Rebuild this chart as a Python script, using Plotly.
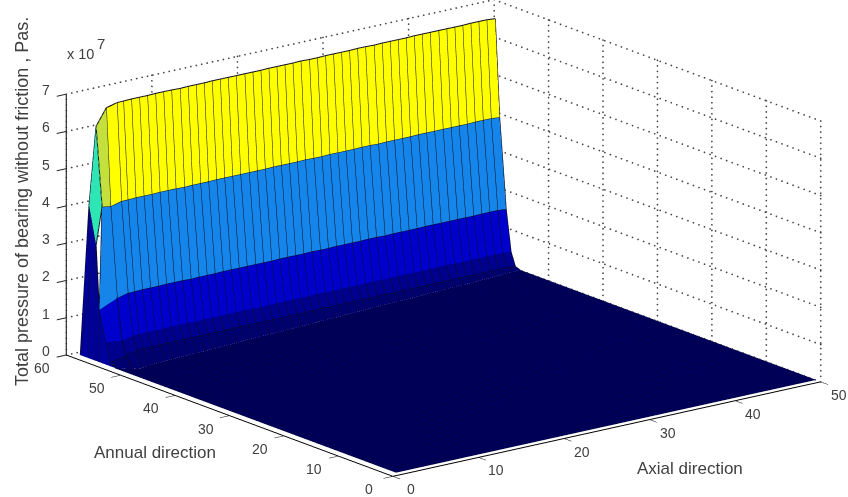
import numpy as np
import plotly.graph_objects as go

axial = list(range(1, 51))
x_ticks = [0, 10, 20, 30, 40, 50]
y_ticks = [0, 10, 20, 30, 40, 50, 60]
z_ticks = [0, 1, 2, 3, 4, 5, 6, 7]

# crest of the pressure wall, columns x=2..50
crest_y = [55.8,55.4,55.8,55.9,56.0,56.1,56.2,56.3,56.4,56.4,
           56.5,56.6,56.7,56.8,56.9,57.0,57.1,57.1,57.2,57.3,
           57.4,57.5,57.6,57.7,57.8,57.8,57.9,58.0,58.1,58.2,
           58.3,58.4,58.5,58.5,58.6,58.7,58.8,58.9,59.0,59.1,
           59.2,59.2,59.3,59.4,59.5,59.6,59.7,59.8,59.8]
crest_z = [6.76,6.87,6.84,6.84,6.83,6.82,6.82,6.81,6.80,6.79,
           6.79,6.78,6.77,6.77,6.76,6.75,6.74,6.74,6.73,6.72,
           6.72,6.71,6.70,6.69,6.69,6.68,6.67,6.67,6.66,6.65,
           6.64,6.64,6.63,6.62,6.62,6.61,6.60,6.59,6.59,6.58,
           6.57,6.57,6.56,6.55,6.54,6.54,6.53,6.52,6.50]
row_drop = [0, 2.6, 5.0, 6.1, 6.45]
row_offset = [0, -0.8, -2.0, -2.9, -3.7, -4.6]
band_colors = ["#FFFF00", "#1685EA", "#0000CC", "#00008E", "#000070"]
floor_color = "#00005A"

# first column, x=1
edge_y = [56.1, 55.0, 55.5, 54.3, 53.4, 52.5]
edge_z = [6.3, 4.2, 1.4, 0.6, 0.1, 0]
edge_colors = ["#C4E03C", "#1685EA", "#0000CC", "#00008E", "#000070"]

# facets on the x=1 flank
flank_y = [56.1, 55.0, 56.1, 57.4, 59.0, 55.5, 54.3, 52.5, 53.4]
flank_z = [6.3, 4.2, 3.1, 4.1, 0.0, 1.4, 0.6, 0.0, 0.1]
flank_tri = [(0, 1, 2, "#2EE6B4"), (0, 2, 3, "#2EE6B4"), (4, 3, 2, "#00009C"),
             (4, 2, 5, "#00009C"), (4, 5, 6, "#00009C"), (4, 6, 8, "#00009C"), (4, 8, 7, "#00009C")]
flank_rib_y = [57.4, 56.1, 55.5]
flank_rib_z = [4.1, 3.1, 1.4]

nfloor = 50
ncol = len(axial)
nwall = len(row_offset)
nrow = nwall + nfloor
X, Y, Z = np.zeros((ncol, nrow)), np.zeros((ncol, nrow)), np.zeros((ncol, nrow))
for c in range(ncol):
    X[c] = axial[c]
    if c == 0:
        wy, wz = np.array(edge_y), np.array(edge_z)
    else:
        wy = crest_y[c - 1] + np.array(row_offset)
        wz = np.array([crest_z[c - 1] - d for d in row_drop] + [0.0])
    Y[c, :nwall] = wy
    Z[c, :nwall] = wz
    Y[c, nwall:] = np.linspace(wy[-1], 1, nfloor + 1)[1:]

vx, vy, vz = X.ravel().tolist(), Y.ravel().tolist(), Z.ravel().tolist()
idx = lambda c, r: c * nrow + r
I, J, K, F = [], [], [], []
for c in range(ncol - 1):
    for r in range(nrow - 1):
        if r < nwall - 1:
            col = edge_colors[r] if c == 0 else band_colors[r]
        else:
            col = floor_color
        a, b, d, e = idx(c, r), idx(c + 1, r), idx(c + 1, r + 1), idx(c, r + 1)
        I += [a, a]; J += [b, d]; K += [d, e]; F += [col, col]
# flank facets
base = len(vx)
vx += [1] * len(flank_y); vy += flank_y; vz += flank_z
for a, b, d, col in flank_tri:
    I.append(base + a); J.append(base + b); K.append(base + d); F.append(col)

fig = go.Figure()
fig.add_trace(go.Mesh3d(x=vx, y=vy, z=vz, i=I, j=J, k=K, facecolor=F, flatshading=True,
                        lighting=dict(ambient=1, diffuse=0, specular=0, fresnel=0, roughness=1),
                        hoverinfo="skip", showscale=False))

def seg_trace(segs, color, width=2):
    xs, ys, zs = [], [], []
    for s in segs:
        xs += list(s[0]) + [None]; ys += list(s[1]) + [None]; zs += list(s[2]) + [None]
    return go.Scatter3d(x=xs, y=ys, z=zs, mode="lines", line=dict(color=color, width=width),
                        hoverinfo="skip", showlegend=False)

# wall mesh lines
wall = []
for c in range(ncol):
    wall.append((X[c, :nwall], Y[c, :nwall], Z[c, :nwall]))
for r in range(nwall - 1):
    wall.append((X[:, r], Y[:, r], Z[:, r]))
fig.add_trace(seg_trace(wall, "#0A0A20"))
flank = [([1, 1], [flank_y[a], flank_y[b]], [flank_z[a], flank_z[b]]) for a, b in [(3, 0), (4, 3), (2, 3), (2, 1), (2, 5), (2, 4)]]
flank += [([1, 1], [ry, ry], [0, rz]) for ry, rz in zip(flank_rib_y, flank_rib_z)]
fig.add_trace(seg_trace(flank, "#0A0A30"))

# floor mesh lines
floor = []
for c in range(ncol):
    floor.append((X[c, nwall - 1:], Y[c, nwall - 1:], Z[c, nwall - 1:]))
for r in range(nwall, nrow):
    floor.append((X[:, r], Y[:, r], Z[:, r]))
fig.add_trace(seg_trace(floor, "#00003C", width=1))

# dotted grid on back walls, drawn as rows of tiny dots
xmax, ymax, zmax = x_ticks[-1], y_ticks[-1], z_ticks[-1]
gx, gy, gz = [], [], []
def dots(x0, x1, y0, y1, z0, z1, n):
    gx.extend(np.linspace(x0, x1, n).tolist())
    gy.extend(np.linspace(y0, y1, n).tolist())
    gz.extend(np.linspace(z0, z1, n).tolist())
for z in z_ticks:
    dots(0, xmax, ymax, ymax, z, z, 80)
    dots(xmax, xmax, 0, ymax, z, z, 60)
for x in x_ticks:
    dots(x, x, ymax, ymax, 0, zmax, 48)
for y in y_ticks:
    dots(xmax, xmax, y, y, 0, zmax, 48)
fig.add_trace(go.Scatter3d(x=gx, y=gy, z=gz, mode="markers", marker=dict(size=1, color="#444444", line=dict(width=0)),
                           hoverinfo="skip", showlegend=False))

def axis(vals, rng):
    return dict(range=rng, autorange=False, tickmode="array", tickvals=vals, showticklabels=False,
                showgrid=False, zeroline=False, showbackground=False, showline=True, linecolor="#000000",
                linewidth=2, ticks="outside", ticklen=12, tickcolor="#222222", tickwidth=2,
                title=dict(text=""), showspikes=False)

tf = dict(family="Liberation Sans", size=14, color="#404040")
scene_notes = []
for v in x_ticks:
    scene_notes.append(dict(x=v, y=0, z=0, text=str(v), showarrow=False, xshift=18, yshift=-13, font=tf))
for v in y_ticks:
    scene_notes.append(dict(x=0, y=v, z=0, text=str(v), showarrow=False, xshift=-24, yshift=-13, font=tf))
for v in z_ticks:
    scene_notes.append(dict(x=0, y=ymax, z=v, text=str(v), showarrow=False, xshift=-20, yshift=4, font=tf))

center = np.array([-0.0694, 0.0386, -0.0406])
eye = np.array([-0.586, -0.760, 0.287]) * 3.0 + center
K_ = 2.174
fig.update_layout(
    width=848, height=497, margin=dict(l=0, r=0, t=0, b=0), paper_bgcolor="white", showlegend=False,
    scene=dict(
        domain=dict(x=[0, 1], y=[0, 1]),
        xaxis=axis(x_ticks, [0, xmax]), yaxis=axis(y_ticks, [0, ymax]), zaxis=axis(z_ticks, [0, zmax]),
        aspectmode="manual", aspectratio=dict(x=K_, y=0.99 * K_, z=0.504 * K_),
        camera=dict(projection=dict(type="orthographic"), up=dict(x=0, y=0, z=1),
                    center=dict(x=center[0], y=center[1], z=center[2]), eye=dict(x=eye[0], y=eye[1], z=eye[2])),
        annotations=scene_notes,
    ),
)
def note(text, x, y, angle=0, size=14):
    fig.add_annotation(text=text, x=x / 848, y=1 - y / 497, xref="paper", yref="paper", showarrow=False,
                       xanchor="center", yanchor="middle",
                       textangle=angle, font=dict(family="Liberation Sans", size=size, color="#404040"))
note("Annual direction", 155, 452, size=17)
note("Axial direction", 690, 468, size=17)
note("Total pressure of bearing without friction , Pas.", 22, 202, angle=-90, size=18)
note("x 10", 80, 54, size=14.5)
note("7", 101, 43, size=15)
fig.write_html("out.html", post_script="document.body.style.margin='0';", config={"displayModeBar": False})
